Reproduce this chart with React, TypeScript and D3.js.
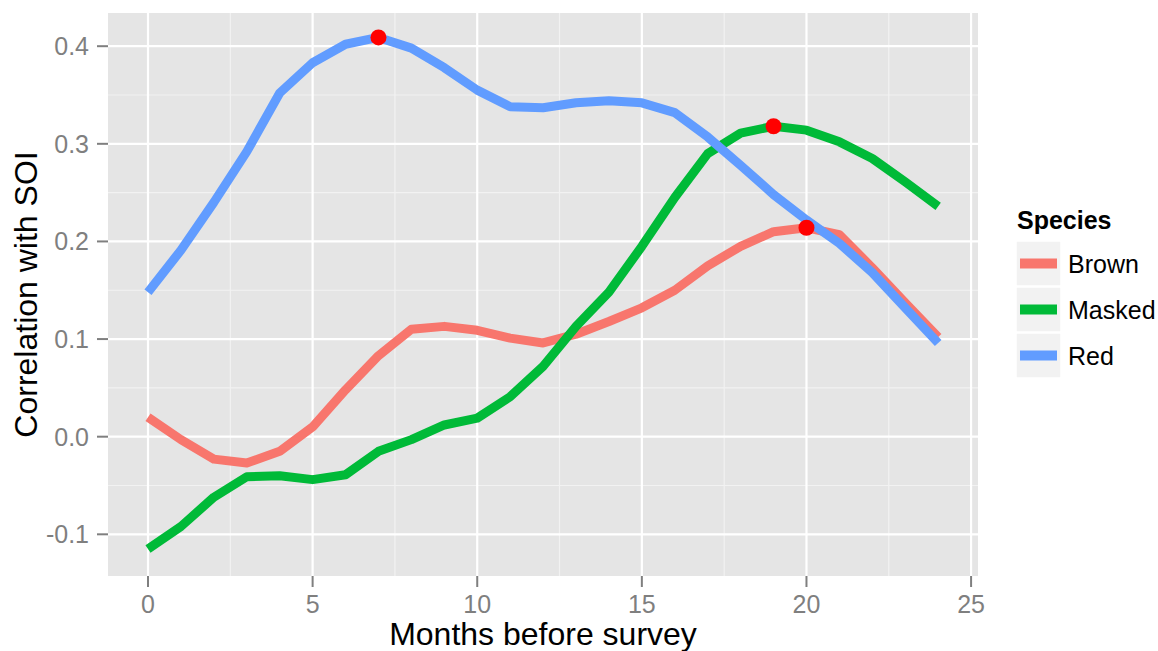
import React from 'react';
import * as d3 from 'd3';

// months before survey
const months = d3.range(0, 25);

const brown = [
  0.020, -0.003, -0.023, -0.027, -0.015, 0.010, 0.048, 0.083, 0.110, 0.113,
  0.109, 0.101, 0.096, 0.105, 0.118, 0.132, 0.150, 0.175, 0.195, 0.210,
  0.214, 0.207, 0.173, 0.137, 0.102,
];
const masked = [
  -0.115, -0.092, -0.062, -0.041, -0.040, -0.044, -0.039, -0.015, -0.003, 0.012,
  0.019, 0.041, 0.072, 0.113, 0.148, 0.195, 0.245, 0.290, 0.311, 0.318,
  0.314, 0.302, 0.285, 0.261, 0.236,
];
const red = [
  0.148, 0.191, 0.240, 0.292, 0.352, 0.383, 0.402, 0.409, 0.398, 0.378,
  0.355, 0.338, 0.337, 0.342, 0.344, 0.342, 0.332, 0.307, 0.278, 0.248,
  0.222, 0.198, 0.168, 0.132, 0.096,
];

const speciesNames = ['Brown', 'Masked', 'Red'];
const speciesColors = ['#F8766D', '#00BA38', '#619CFF'];
const speciesValues = [brown, masked, red];

// peak points (month, correlation)
const peakMonths = [20, 19, 7];
const peakValues = [0.214, 0.318, 0.409];

const xTicks = [0, 5, 10, 15, 20, 25];
const xMinor = [2.5, 7.5, 12.5, 17.5, 22.5];
const yTicks = [-0.1, 0.0, 0.1, 0.2, 0.3, 0.4];
const yMinor = [-0.05, 0.05, 0.15, 0.25, 0.35];

const W = 1158;
const H = 651;
const panel = { left: 108, top: 13, right: 978, bottom: 576 };
const font = '"Liberation Sans", Arial, sans-serif';

const App: React.FC = () => {
  const x = d3.scaleLinear().domain([-1.215, 25.21]).range([panel.left, panel.right]);
  const y = d3.scaleLinear().domain([-0.1427, 0.434]).range([panel.bottom, panel.top]);

  const line = d3
    .line<number>()
    .x((_, i) => x(months[i]))
    .y((d) => y(d));

  return (
    <svg
      width={W}
      height={H}
      style={{ position: 'absolute', left: 0, top: 0, background: '#fff' }}
    >
      {/* panel */}
      <rect
        x={panel.left}
        y={panel.top}
        width={panel.right - panel.left}
        height={panel.bottom - panel.top}
        fill="#E5E5E5"
      />
      {/* minor grid */}
      {xMinor.map((t) => (
        <line key={'xm' + t} x1={x(t)} x2={x(t)} y1={panel.top} y2={panel.bottom} stroke="#F2F2F2" strokeWidth={1.2} />
      ))}
      {yMinor.map((t) => (
        <line key={'ym' + t} x1={panel.left} x2={panel.right} y1={y(t)} y2={y(t)} stroke="#F2F2F2" strokeWidth={1.2} />
      ))}
      {/* major grid */}
      {xTicks.map((t) => (
        <line key={'xg' + t} x1={x(t)} x2={x(t)} y1={panel.top} y2={panel.bottom} stroke="#fff" strokeWidth={2.2} />
      ))}
      {yTicks.map((t) => (
        <line key={'yg' + t} x1={panel.left} x2={panel.right} y1={y(t)} y2={y(t)} stroke="#fff" strokeWidth={2.2} />
      ))}

      {/* series */}
      {speciesValues.map((vals, k) => (
        <path
          key={speciesNames[k]}
          d={line(vals) || ''}
          fill="none"
          stroke={speciesColors[k]}
          strokeWidth={9}
          strokeLinejoin="round"
          strokeLinecap="butt"
        />
      ))}

      {/* peaks */}
      {peakMonths.map((m, i) => (
        <circle key={'p' + i} cx={x(m)} cy={y(peakValues[i])} r={8} fill="#FF0000" />
      ))}

      {/* x axis */}
      {xTicks.map((t) => (
        <g key={'xt' + t}>
          <line x1={x(t)} x2={x(t)} y1={panel.bottom} y2={panel.bottom + 11} stroke="#7F7F7F" strokeWidth={2} />
          <text x={x(t)} y={613} textAnchor="middle" fontFamily={font} fontSize={25} fill="#7F7F7F">
            {t}
          </text>
        </g>
      ))}
      {/* y axis */}
      {yTicks.map((t) => (
        <g key={'yt' + t}>
          <line x1={panel.left - 11} x2={panel.left} y1={y(t)} y2={y(t)} stroke="#7F7F7F" strokeWidth={2} />
          <text x={89} y={y(t)} dy="0.36em" textAnchor="end" fontFamily={font} fontSize={25} fill="#7F7F7F">
            {d3.format('.1f')(t).replace('−', '-')}
          </text>
        </g>
      ))}

      {/* axis titles */}
      <text x={(panel.left + panel.right) / 2} y={645} textAnchor="middle" fontFamily={font} fontSize={32} fill="#000">
        Months before survey
      </text>
      <text
        transform={`translate(37,${(panel.top + panel.bottom) / 2}) rotate(-90)`}
        textAnchor="middle"
        fontFamily={font}
        fontSize={32}
        fill="#000"
      >
        Correlation with SOI
      </text>

      {/* legend */}
      <text x={1017} y={229} fontFamily={font} fontSize={25} fontWeight="bold" fill="#000">
        Species
      </text>
      {speciesNames.map((name, i) => {
        const top = 241 + i * 46;
        return (
          <g key={'lg' + name}>
            <rect x={1016} y={top} width={45} height={45} fill="#F2F2F2" stroke="#fff" strokeWidth={1.5} />
            <line x1={1020} x2={1057} y1={top + 22.5} y2={top + 22.5} stroke={speciesColors[i]} strokeWidth={10} />
            <text x={1068} y={top + 22.5} dy="0.36em" fontFamily={font} fontSize={25} fill="#000">
              {name}
            </text>
          </g>
        );
      })}
    </svg>
  );
};

export default App;
